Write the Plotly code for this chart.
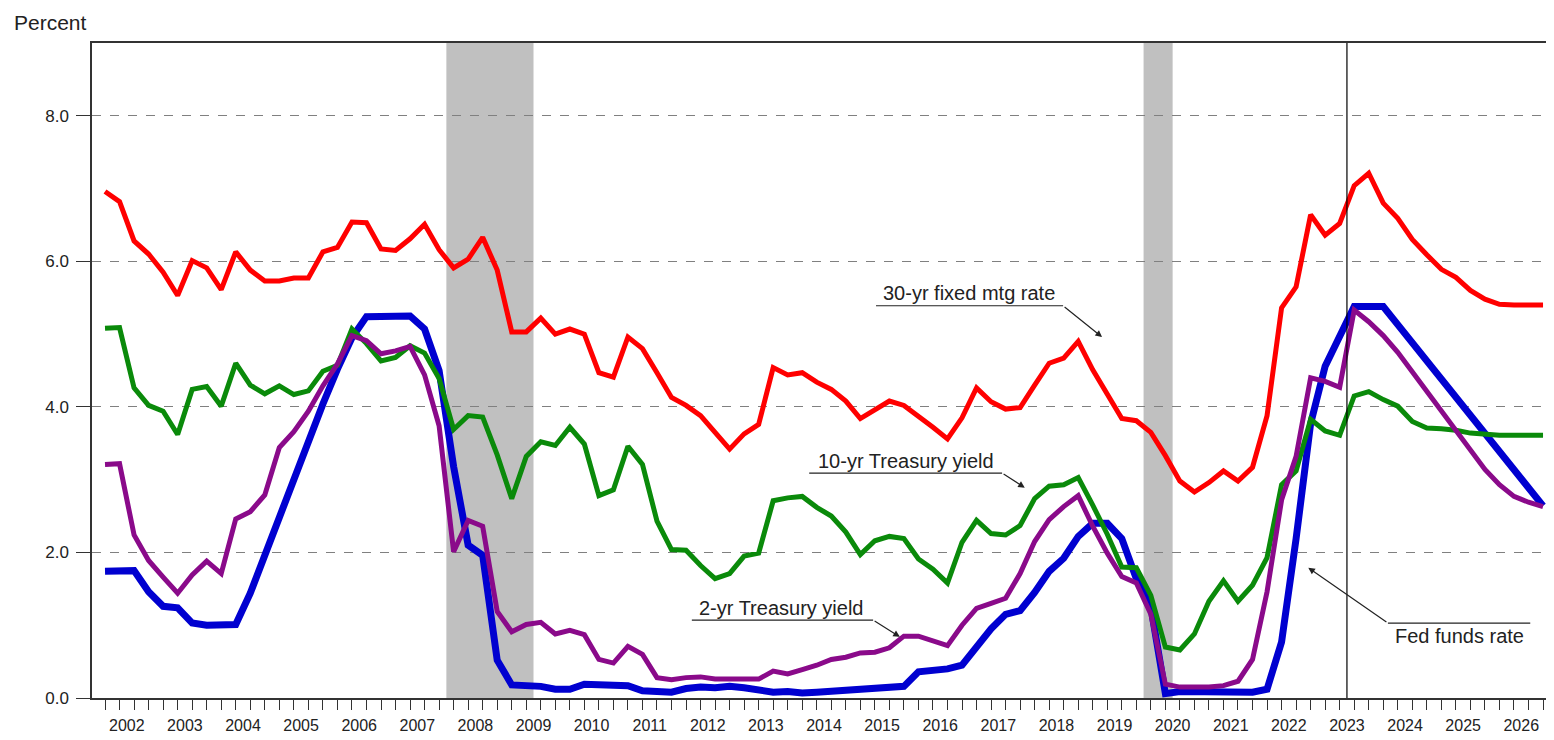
import plotly.graph_objects as go

# Quarterly series, 2002Q1 - 2026Q4 (percent)
years = list(range(2002, 2027))
quarters = [y + q / 4 for y in years for q in range(4)]

mortgage_30yr = [
    6.96, 6.82, 6.28, 6.10, 5.85, 5.53, 6.01, 5.91, 5.61, 6.13, 5.88, 5.73,
    5.73, 5.77, 5.77, 6.13, 6.19, 6.54, 6.53, 6.17, 6.15, 6.31, 6.51, 6.16,
    5.91, 6.03, 6.33, 5.88, 5.03, 5.03, 5.22, 5.00, 5.07, 5.00, 4.47, 4.41,
    4.96, 4.80, 4.47, 4.13, 4.02, 3.88, 3.65, 3.42, 3.63, 3.76, 4.54, 4.44,
    4.47, 4.34, 4.24, 4.08, 3.84, 3.97, 4.08, 4.02, 3.88, 3.72, 3.56, 3.85,
    4.26, 4.07, 3.97, 3.99, 4.30, 4.60, 4.67, 4.90, 4.51, 4.19, 3.84, 3.81,
    3.65, 3.33, 2.98, 2.83, 2.96, 3.12, 2.98, 3.17, 3.88, 5.36, 5.65, 6.64,
    6.36, 6.52, 7.04, 7.21, 6.80, 6.59, 6.30, 6.09, 5.89, 5.78, 5.60, 5.48,
    5.41, 5.40, 5.40, 5.40,
]

treasury_10yr = [
    5.08, 5.09, 4.26, 4.02, 3.94, 3.62, 4.24, 4.28, 4.01, 4.60, 4.30, 4.18,
    4.29, 4.17, 4.22, 4.49, 4.57, 5.07, 4.87, 4.63, 4.68, 4.84, 4.74, 4.39,
    3.69, 3.88, 3.86, 3.34, 2.74, 3.32, 3.52, 3.47, 3.72, 3.49, 2.78, 2.86,
    3.46, 3.21, 2.43, 2.04, 2.03, 1.82, 1.64, 1.71, 1.95, 1.99, 2.71, 2.75,
    2.77, 2.62, 2.50, 2.28, 1.97, 2.16, 2.22, 2.19, 1.91, 1.77, 1.58, 2.14,
    2.44, 2.26, 2.24, 2.37, 2.74, 2.91, 2.93, 3.03, 2.65, 2.25, 1.80, 1.79,
    1.41, 0.70, 0.66, 0.88, 1.33, 1.61, 1.33, 1.55, 1.93, 2.93, 3.12, 3.83,
    3.67, 3.61, 4.15, 4.21, 4.10, 4.01, 3.80, 3.71, 3.70, 3.68, 3.64, 3.62,
    3.61, 3.61, 3.61, 3.61,
]

treasury_2yr = [
    3.21, 3.22, 2.24, 1.89, 1.66, 1.44, 1.69, 1.88, 1.71, 2.46, 2.56, 2.79,
    3.44, 3.66, 3.94, 4.29, 4.59, 4.98, 4.91, 4.73, 4.77, 4.83, 4.44, 3.74,
    2.01, 2.44, 2.36, 1.19, 0.91, 1.01, 1.04, 0.88, 0.93, 0.87, 0.53, 0.48,
    0.71, 0.60, 0.28, 0.25, 0.28, 0.29, 0.26, 0.26, 0.26, 0.26, 0.37, 0.33,
    0.39, 0.45, 0.53, 0.56, 0.62, 0.63, 0.69, 0.85, 0.85, 0.78, 0.72, 1.00,
    1.23, 1.30, 1.37, 1.71, 2.15, 2.45, 2.63, 2.78, 2.36, 1.99, 1.67, 1.58,
    1.15, 0.19, 0.15, 0.15, 0.15, 0.17, 0.23, 0.53, 1.46, 2.72, 3.32, 4.40,
    4.35, 4.27, 5.33, 5.17, 4.98, 4.75, 4.48, 4.22, 3.96, 3.69, 3.41, 3.14,
    2.93, 2.77, 2.69, 2.63,
]

fed_funds = [
    1.74, 1.75, 1.75, 1.46, 1.26, 1.24, 1.03, 1.00, 1.00, 1.01, 1.44, 1.97,
    2.50, 3.00, 3.52, 4.04, 4.52, 4.95, 5.24, 5.25, 5.25, 5.25, 5.07, 4.50,
    3.18, 2.10, 1.96, 0.52, 0.18, 0.18, 0.16, 0.12, 0.12, 0.19, 0.19, 0.19,
    0.17, 0.10, 0.08, 0.08, 0.13, 0.15, 0.14, 0.16, 0.14, 0.12, 0.08, 0.09,
    0.07, 0.08, 0.09, 0.10, 0.11, 0.12, 0.13, 0.16, 0.36, 0.37, 0.40, 0.45,
    0.70, 0.95, 1.15, 1.20, 1.45, 1.74, 1.92, 2.22, 2.40, 2.40, 2.19, 1.64,
    1.25, 0.06, 0.09, 0.09, 0.08, 0.07, 0.08, 0.08, 0.12, 0.77, 2.19, 3.77,
    4.56, 4.99, 5.38, 5.38, 5.38, 5.13, 4.88, 4.63, 4.39, 4.14, 3.89, 3.64,
    3.39, 3.14, 2.89, 2.64,
]

recessions = [(2007.875, 2009.375), (2019.875, 2020.375)]
forecast_start = 2023.375
y_ticks = [0, 2, 4, 6, 8]
y_tick_labels = ["0.0", "2.0", "4.0", "6.0", "8.0"]
year_labels = [str(y) for y in years]

FONT = "Arial, Liberation Sans, sans-serif"

fig = go.Figure()

series = [
    ("30-yr fixed mtg rate", mortgage_30yr, "#ff0000", 5),
    ("Fed funds rate", fed_funds, "#0000d0", 7),
    ("10-yr Treasury yield", treasury_10yr, "#0a8a0a", 5),
    ("2-yr Treasury yield", treasury_2yr, "#8a0a8a", 5),
]
for name, vals, color, width in series:
    fig.add_trace(go.Scatter(
        x=quarters, y=vals, mode="lines", name=name,
        line=dict(color=color, width=width),
    ))

# recession shading
for x0, x1 in recessions:
    fig.add_shape(type="rect", x0=x0, x1=x1, y0=0, y1=9, xref="x", yref="y",
                  fillcolor="#c0c0c0", line=dict(width=0), layer="below")

# forecast start marker
fig.add_shape(type="line", x0=forecast_start, x1=forecast_start, y0=0, y1=9,
              xref="x", yref="y", line=dict(color="black", width=1.2))

# labels: (text, text x, text y, underline x0, x1, y, arrow tail x, arrow tip x, tip y)
labels = [
    ("30-yr fixed mtg rate", 2016.87, 5.57, 2015.27, 2018.49, 5.39, 2018.49, 2019.16, 4.96),
    ("10-yr Treasury yield", 2015.78, 3.26, 2014.12, 2017.44, 3.09, 2017.44, 2017.83, 2.89),
    ("2-yr Treasury yield", 2013.64, 1.24, 2012.10, 2015.22, 1.07, 2015.22, 2015.68, 0.84),
    ("Fed funds rate", 2025.31, 0.85, 2024.08, 2026.53, 1.03, 2024.08, 2022.71, 1.79),
]
for text, tx, ty, ux0, ux1, uy, ax, px, py in labels:
    fig.add_annotation(x=tx, y=ty, text=text, showarrow=False,
                       font=dict(family=FONT, size=20, color="#222222"))
    fig.add_shape(type="line", x0=ux0, x1=ux1, y0=uy, y1=uy, xref="x", yref="y",
                  line=dict(color="#222222", width=1.2))
    fig.add_annotation(x=px, y=py, ax=ax, ay=uy, axref="x", ayref="y", text="",
                       showarrow=True, arrowhead=2, arrowsize=1.1, arrowwidth=1.2,
                       arrowcolor="#222222")

fig.add_annotation(text="Percent", xref="paper", yref="paper",
                   x=-80 / 1458, y=1 + 21 / 655, xanchor="left", yanchor="middle",
                   showarrow=False, font=dict(family=FONT, size=21, color="#222222"))

# the page body adds an 8px margin, so the figure is sized to fit inside it
fig.update_layout(
    width=1546, height=732,
    margin=dict(l=84, r=4, t=35, b=42, autoexpand=False),
    plot_bgcolor="white", paper_bgcolor="white",
    showlegend=False,
    font=dict(family=FONT, color="#222222"),
    xaxis=dict(
        range=[2001.776, 2026.87],
        automargin=False,
        tickmode="array",
        tickvals=[y + 0.375 for y in years],
        ticktext=year_labels,
        ticks="",
        ticklabelstandoff=12,
        tickfont=dict(size=16, color="#222222"),
        showgrid=False, zeroline=False,
        showline=True, linecolor="#333333", linewidth=1.5, mirror=True,
        minor=dict(tickmode="array", tickvals=quarters, ticks="outside",
                   ticklen=10, tickcolor="#333333", tickwidth=1.2, showgrid=False),
    ),
    yaxis=dict(
        range=[0, 9],
        automargin=False,
        tickmode="array",
        tickvals=y_ticks,
        ticktext=y_tick_labels,
        ticks="outside", ticklen=14, tickcolor="#333333",
        ticklabelstandoff=4,
        tickfont=dict(size=17, color="#222222"),
        showgrid=True, gridcolor="#808080", griddash="dash", gridwidth=1,
        zeroline=False,
        showline=True, linecolor="#333333", linewidth=1.5, mirror=True,
    ),
)

fig.write_html("out.html")
